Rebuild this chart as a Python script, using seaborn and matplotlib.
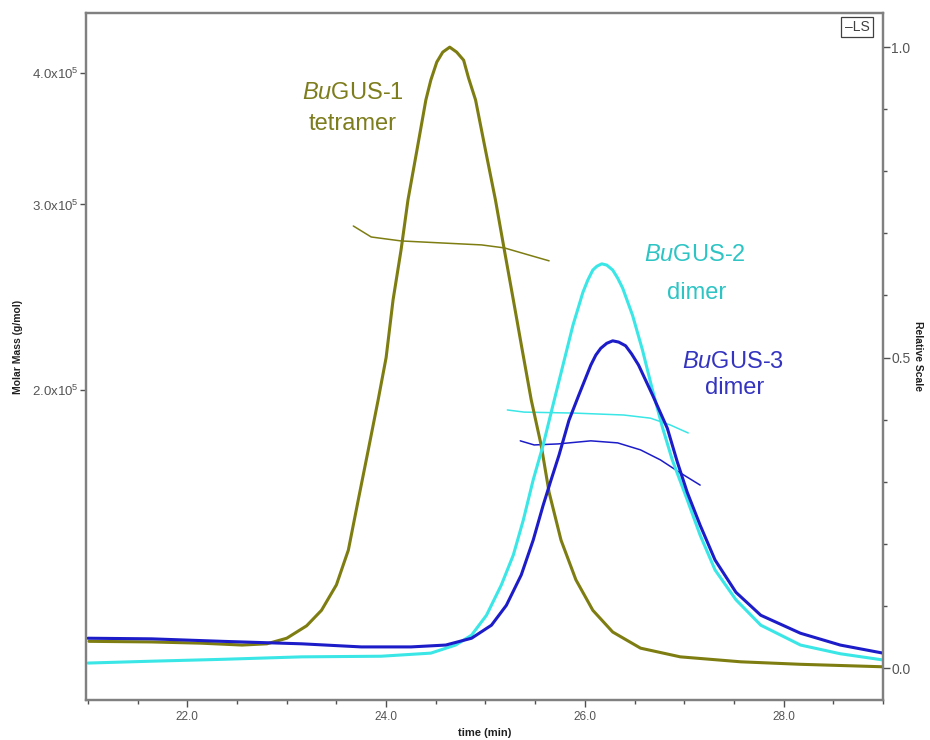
import numpy as np
import pandas as pd
import matplotlib
matplotlib.use("Agg")
import matplotlib.pyplot as plt
import seaborn as sns
from matplotlib.ticker import FixedLocator, MultipleLocator, NullLocator

# ---------------- data ----------------
# Light scattering traces (relative scale, right axis)
t_ls1 = [21.01, 21.64, 22.14, 22.55, 22.80, 23.00, 23.20, 23.35, 23.50, 23.62, 23.72, 23.82,
         23.92, 24.00, 24.07, 24.15, 24.22, 24.31, 24.40, 24.45, 24.51, 24.57, 24.64, 24.71,
         24.78, 24.83, 24.90, 25.00, 25.10, 25.19, 25.28, 25.37, 25.46, 25.56, 25.64, 25.76,
         25.91, 26.08, 26.28, 26.56, 26.96, 27.57, 28.17, 29.0]
r_ls1 = [0.043, 0.042, 0.040, 0.037, 0.039, 0.048, 0.068, 0.093, 0.134, 0.190, 0.271, 0.351,
         0.432, 0.500, 0.593, 0.673, 0.754, 0.834, 0.915, 0.947, 0.976, 0.992, 1.000, 0.992,
         0.979, 0.950, 0.915, 0.834, 0.754, 0.673, 0.593, 0.512, 0.432, 0.359, 0.283, 0.206,
         0.142, 0.093, 0.058, 0.032, 0.018, 0.010, 0.006, 0.002]

t_ls2 = [21.0, 21.64, 22.35, 23.15, 23.95, 24.45, 24.70, 24.86, 25.01, 25.16, 25.28, 25.38,
         25.48, 25.58, 25.68, 25.78, 25.88, 25.98, 26.03, 26.08, 26.12, 26.17, 26.22, 26.28,
         26.33, 26.38, 26.48, 26.58, 26.68, 26.78, 26.88, 27.03, 27.16, 27.31, 27.52, 27.77,
         28.17, 28.57, 29.0]
r_ls2 = [0.008, 0.011, 0.014, 0.018, 0.019, 0.024, 0.037, 0.053, 0.085, 0.134, 0.182, 0.238,
         0.303, 0.359, 0.424, 0.488, 0.552, 0.605, 0.625, 0.641, 0.647, 0.651, 0.649, 0.641,
         0.628, 0.612, 0.568, 0.512, 0.448, 0.388, 0.335, 0.271, 0.214, 0.158, 0.110, 0.069,
         0.037, 0.023, 0.013]

t_ls3 = [21.0, 21.64, 22.35, 23.15, 23.75, 24.25, 24.60, 24.86, 25.06, 25.21, 25.36, 25.48,
         25.58, 25.66, 25.74, 25.84, 25.94, 26.06, 26.11, 26.16, 26.22, 26.28, 26.34, 26.41,
         26.47, 26.54, 26.68, 26.83, 26.93, 27.03, 27.16, 27.31, 27.52, 27.77, 28.17, 28.57,
         29.0]
r_ls3 = [0.048, 0.047, 0.043, 0.039, 0.034, 0.034, 0.037, 0.048, 0.069, 0.101, 0.150, 0.206,
         0.262, 0.303, 0.343, 0.399, 0.440, 0.488, 0.504, 0.515, 0.523, 0.527, 0.525, 0.519,
         0.506, 0.488, 0.440, 0.386, 0.332, 0.283, 0.230, 0.174, 0.122, 0.085, 0.056, 0.037,
         0.024]

# Molar mass traces (g/mol, left log axis)
t_mm1 = [23.67, 23.85, 24.15, 24.55, 24.96, 25.19, 25.43, 25.64]
m_mm1 = [2.862e5, 2.794e5, 2.770e5, 2.758e5, 2.746e5, 2.728e5, 2.687e5, 2.652e5]

t_mm2 = [25.22, 25.39, 25.89, 26.39, 26.66, 26.86, 27.04]
m_mm2 = [1.914e5, 1.905e5, 1.901e5, 1.893e5, 1.880e5, 1.852e5, 1.820e5]

t_mm3 = [25.35, 25.49, 25.73, 26.06, 26.33, 26.56, 26.76, 26.96, 27.16]
m_mm3 = [1.789e5, 1.773e5, 1.777e5, 1.789e5, 1.781e5, 1.754e5, 1.716e5, 1.668e5, 1.624e5]

mm_ticks = [2.0e5, 3.0e5, 4.0e5]
mm_ticklabels = ["2.0x10$^5$", "3.0x10$^5$", "4.0x10$^5$"]
x_ticks = [22.0, 24.0, 26.0, 28.0]
x_ticklabels = ["22.0", "24.0", "26.0", "28.0"]
rel_ticks = [0.0, 0.5, 1.0]
rel_ticklabels = ["0.0", "0.5", "1.0"]

labels = ["BuGUS-1", "BuGUS-2", "BuGUS-3"]
colors = ["#7d7d12", "#3ae6e6", "#1c1cc8"]
text_colors = ["#7d7d1e", "#2ec4c4", "#3434c0"]

# ---------------- style ----------------
sns.set_style("white")
plt.rcParams["font.family"] = ["Liberation Sans", "DejaVu Sans"]
plt.rcParams["mathtext.fontset"] = "custom"
plt.rcParams["mathtext.rm"] = "Liberation Sans"
plt.rcParams["mathtext.it"] = "Liberation Sans:italic"

spine_c = "#808080"
tick_c = "#505050"

fig = plt.figure(figsize=(9.3, 7.4), dpi=100)
ax = fig.add_axes([86 / 930, 1 - 700 / 740, (883 - 86) / 930, (700 - 13) / 740])
ax2 = ax.twinx()

ls_df = pd.concat([
    pd.DataFrame({"t": t_ls1, "r": r_ls1, "s": labels[0]}),
    pd.DataFrame({"t": t_ls2, "r": r_ls2, "s": labels[1]}),
    pd.DataFrame({"t": t_ls3, "r": r_ls3, "s": labels[2]}),
])
mm_df = pd.concat([
    pd.DataFrame({"t": t_mm1, "m": m_mm1, "s": labels[0]}),
    pd.DataFrame({"t": t_mm2, "m": m_mm2, "s": labels[1]}),
    pd.DataFrame({"t": t_mm3, "m": m_mm3, "s": labels[2]}),
])
pal = dict(zip(labels, colors))

sns.lineplot(data=mm_df, x="t", y="m", hue="s", palette=pal, ax=ax,
             linewidth=1.1, legend=False, sort=False, estimator=None,
             solid_joinstyle="round", solid_capstyle="round")
sns.lineplot(data=ls_df, x="t", y="r", hue="s", palette=pal, ax=ax2,
             linewidth=2.2, legend=False, sort=False, estimator=None,
             solid_joinstyle="round", solid_capstyle="round")

# left axis (log molar mass)
ax.set_yscale("log")
ax.set_ylim(1.015e5, 4.56e5)
ax.yaxis.set_major_locator(FixedLocator(mm_ticks))
ax.yaxis.set_minor_locator(NullLocator())
ax.set_yticklabels(mm_ticklabels)
ax.set_xlim(20.98, 29.0)
ax.xaxis.set_major_locator(FixedLocator(x_ticks))
ax.set_xticklabels(x_ticklabels)
ax.xaxis.set_minor_locator(MultipleLocator(0.5))

# right axis
ax2.set_ylim(-0.0515, 1.055)
ax2.yaxis.set_major_locator(FixedLocator(rel_ticks))
ax2.set_yticklabels(rel_ticklabels)
ax2.yaxis.set_minor_locator(MultipleLocator(0.1))

for a in (ax, ax2):
    for sp in a.spines.values():
        sp.set_color(spine_c)
        sp.set_linewidth(1.6)
    a.set_xlabel("")
    a.set_ylabel("")

ax.tick_params(axis="y", which="major", direction="out", length=4, width=1, color=tick_c,
               labelsize=9.5, labelcolor="#555555", pad=1, left=True)
ax.tick_params(axis="x", which="major", direction="out", length=5, width=1, color=tick_c,
               labelsize=8.5, labelcolor="#555555", pad=3, bottom=True)
ax.tick_params(axis="x", which="minor", direction="out", length=3, width=1, color=tick_c,
               bottom=True)
for lb in ax.get_xticklabels():
    lb.set_fontfamily(["Liberation Sans Narrow", "Liberation Sans"])
ax2.tick_params(axis="y", which="major", direction="out", length=5, width=1, color=tick_c,
                labelsize=10, labelcolor="#555555", pad=1, right=True)
ax2.tick_params(axis="y", which="minor", direction="out", length=3, width=1, color=tick_c,
                right=True)

# axis titles
fig.text(18 / 930, 1 - 347 / 740, "Molar Mass (g/mol)", rotation=90, ha="center", va="center",
         fontsize=7.5, fontweight="bold", color="#202020",
         family=["Liberation Sans Narrow", "Liberation Sans"])
fig.text(918 / 930, 1 - 356 / 740, "Relative Scale", rotation=270, ha="center", va="center",
         fontsize=7.5, fontweight="bold", color="#202020")
fig.text(485 / 930, 1 - 733 / 740, "time (min)", ha="center", va="center",
         fontsize=8, fontweight="bold", color="#202020",
         family=["Liberation Sans Narrow", "Liberation Sans"])

# LS tag
fig.text(857 / 930, 1 - 27 / 740, "\u2013LS", ha="center", va="center", fontsize=10,
         color="#404040",
         bbox=dict(boxstyle="square,pad=0.25", fc="white", ec="#404040", lw=0.9))

# annotations
ann = [
    (353, 93, r"$\it{Bu}$GUS-1", text_colors[0]),
    (353, 124, "tetramer", text_colors[0]),
    (695, 255, r"$\it{Bu}$GUS-2", text_colors[1]),
    (697, 293, "dimer", text_colors[1]),
    (733, 362, r"$\it{Bu}$GUS-3", text_colors[2]),
    (735, 388, "dimer", text_colors[2]),
]
for px, py, s, c in ann:
    fig.text(px / 930, 1 - py / 740, s, ha="center", va="center", fontsize=17, color=c)

fig.savefig("out.png", dpi=100)
